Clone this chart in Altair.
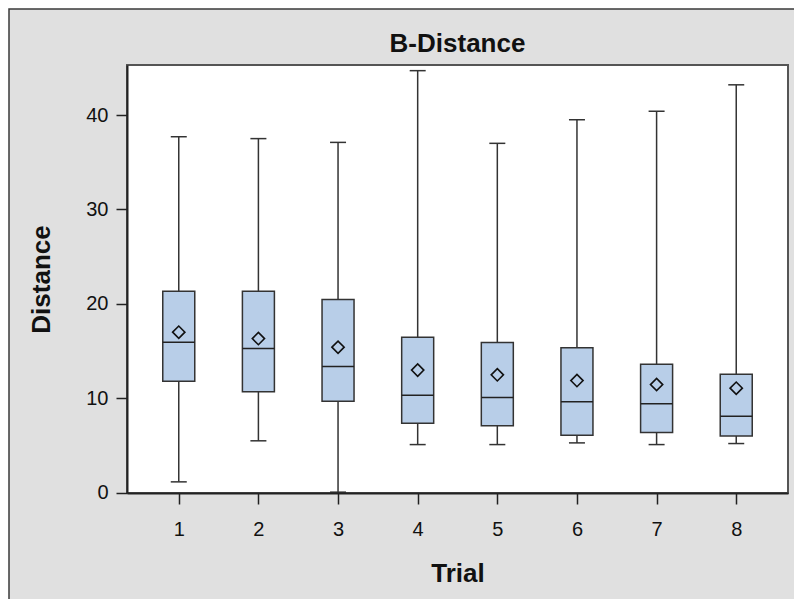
import altair as alt
import pandas as pd

trials = [1, 2, 3, 4, 5, 6, 7, 8]
q1 = [11.8, 10.67, 9.68, 7.35, 7.07, 6.08, 6.36, 6.0]
median = [15.93, 15.25, 13.35, 10.32, 10.06, 9.61, 9.4, 8.09]
q3 = [21.33, 21.33, 20.44, 16.46, 15.89, 15.33, 13.6, 12.54]
mean = [16.99, 16.31, 15.4, 12.97, 12.47, 11.86, 11.44, 11.06]
whisker_low = [1.13, 5.48, 0.04, 5.08, 5.08, 5.26, 5.08, 5.19]
whisker_high = [37.7, 37.5, 37.1, 44.7, 37.0, 39.5, 40.4, 43.2]
title_text = "B-Distance"

df = pd.DataFrame({
    "Trial": trials, "q1": q1, "median": median, "q3": q3,
    "mean": mean, "lo": whisker_low, "hi": whisker_high,
})

W, H = 661, 428
FONT = "Liberation Sans"
DARK = "#333333"

xscale = alt.Scale(domain=[0.35, 8.65], nice=False, zero=False, padding=0)
yscale = alt.Scale(domain=[-0.05, 45.3], nice=False, zero=False, padding=0)

xaxis = alt.Axis(
    values=trials, format="d", title="Trial", grid=False,
    labelFontSize=20, labelFont=FONT, labelColor="#111", labelPadding=15,
    tickSize=11, tickWidth=1.5, tickColor="#222",
    domainColor="#222", domainWidth=2,
    titleFont=FONT, titleFontSize=26, titleFontWeight="bold", titleColor="#111",
    titleY=80, titleBaseline="middle", zindex=1,
)
yaxis = alt.Axis(
    values=[0, 10, 20, 30, 40], format="d", title="Distance", grid=False,
    labelFontSize=20, labelFont=FONT, labelColor="#111", labelPadding=8,
    tickSize=11, tickWidth=1.5, tickColor="#222",
    domainColor="#222", domainWidth=2,
    titleFont=FONT, titleFontSize=26, titleFontWeight="bold", titleColor="#111",
    titleX=-86, titleY=214, titleAngle=270, titleBaseline="middle", zindex=1,
)

one = alt.Data(values=[{"t": title_text}])

panel = alt.Chart(one).mark_rect(fill="#e0e0e0", stroke="#3a3a3a", strokeWidth=1.5).encode(
    x=alt.value(-118), x2=alt.value(W + 60), y=alt.value(-56), y2=alt.value(H + 200)
)
plotbg = alt.Chart(one).mark_rect(fill="white", stroke="#555555", strokeWidth=2).encode(
    x=alt.value(0), x2=alt.value(W), y=alt.value(0), y2=alt.value(H)
)
title = alt.Chart(one).mark_text(
    font=FONT, fontSize=26, fontWeight="bold", color="#111",
    align="center", baseline="alphabetic"
).encode(x=alt.value(W / 2), y=alt.value(-13), text="t:N")

base = alt.Chart(df)
X = alt.X("Trial:Q", scale=xscale, axis=xaxis)

whisk_up = base.mark_rule(color=DARK, strokeWidth=1.5).encode(
    x=X, y=alt.Y("q3:Q", scale=yscale, axis=yaxis), y2="hi:Q")
whisk_dn = base.mark_rule(color=DARK, strokeWidth=1.5).encode(
    x=X, y=alt.Y("lo:Q", scale=yscale, axis=yaxis), y2="q1:Q")
boxes = base.mark_bar(size=32, fill="#b8cee8", stroke=DARK, strokeWidth=1.5).encode(
    x=X, y=alt.Y("q1:Q", scale=yscale, axis=yaxis), y2="q3:Q")
med = base.mark_point(shape="M-1,0L1,0", size=1024, filled=False, color="#222", strokeWidth=1.5, opacity=1).encode(
    x=X, y=alt.Y("median:Q", scale=yscale, axis=yaxis))
cap_hi = base.mark_point(shape="M-1,0L1,0", size=256, filled=False, color=DARK, strokeWidth=1.5, opacity=1).encode(
    x=X, y=alt.Y("hi:Q", scale=yscale, axis=yaxis))
cap_lo = base.mark_point(shape="M-1,0L1,0", size=256, filled=False, color=DARK, strokeWidth=1.5, opacity=1).encode(
    x=X, y=alt.Y("lo:Q", scale=yscale, axis=yaxis))
means = base.mark_point(shape="diamond", size=150, filled=False, color="#111", strokeWidth=1.6, opacity=1).encode(
    x=X, y=alt.Y("mean:Q", scale=yscale, axis=yaxis))

chart = alt.layer(
    panel, plotbg, whisk_up, whisk_dn, boxes, med, cap_hi, cap_lo, means, title
).properties(
    width=W, height=H,
    autosize=alt.AutoSizeParams(type="none"),
    padding={"left": 127, "top": 65, "right": 6, "bottom": 106},
    background="white",
).configure_view(stroke=None)

chart.save("out.html", embed_options={"renderer": "svg", "actions": False})
